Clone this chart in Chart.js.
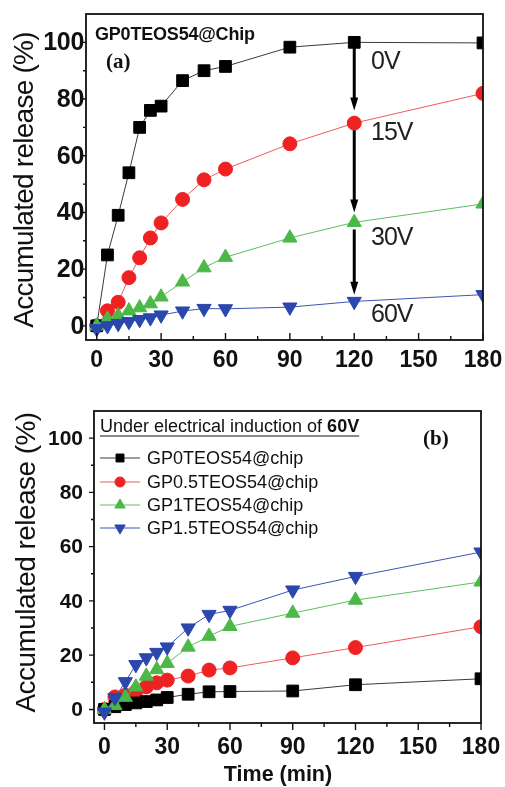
<!DOCTYPE html>
<html><head><meta charset="utf-8">
<script src="https://cdn.jsdelivr.net/npm/chart.js@4/dist/chart.umd.min.js"></script>
<style>
html,body{margin:0;padding:0;background:#fff;}
body{width:505px;height:787px;overflow:hidden;position:relative;}
canvas{position:absolute;left:0;}
</style></head>
<body>
<canvas id="ca" width="505" height="380" style="top:0px"></canvas>
<canvas id="cb" width="505" height="407" style="top:380px"></canvas>
<script>
// ---------- DATA ----------
const times = [0, 5, 10, 15, 20, 25, 30, 40, 50, 60, 90, 120, 180];
// panel (a): GP0TEOS54@Chip at different voltages
const a_0V  = [0, 25, 39, 54, 70, 76, 77.5, 86.5, 90, 91.5, 98.3, 100, 99.8];
const a_15V = [0, 5.3, 8.3, 17, 24, 31, 36.3, 44.6, 51.5, 55.3, 64.2, 71.5, 82];
const a_30V = [0, 2.4, 3.6, 5.3, 6.4, 7.8, 10.2, 15.5, 20.5, 24.2, 31, 36.5, 43];
const a_60V = [-1, 0, 0.8, 1.5, 2.2, 2.8, 3.8, 5.2, 6.1, 6, 6.6, 8.6, 11];
const seriesLabelsA = ['0V', '15V', '30V', '60V'];
// panel (b): 60V, different GP content
const b_GP0   = [0, 1, 1.8, 2.4, 2.9, 3.5, 4.4, 5.6, 6.5, 6.6, 6.8, 9.1, 11.3];
const b_GP05  = [0, 4.6, 5.2, 6.6, 8.3, 9.8, 10.8, 12.3, 14.5, 15.3, 19, 22.8, 30.5];
const b_GP1   = [0, 1.5, 4.5, 8.3, 12.3, 14.7, 17, 23, 27, 30.6, 35.5, 40.3, 47];
const b_GP15  = [-1, 4.3, 10.2, 16.5, 19, 21, 23, 30, 35, 36.5, 44, 49, 58];
const seriesLabelsB = ['GP0TEOS54@chip', 'GP0.5TEOS54@chip', 'GP1TEOS54@chip', 'GP1.5TEOS54@chip'];
// axes
const xTicks = [0, 30, 60, 90, 120, 150, 180];
const xMinor = [15, 45, 75, 105, 135, 165];
const yTicks = [0, 20, 40, 60, 80, 100];
const yMinor = [10, 30, 50, 70, 90];
const xRange = [-5, 180];
const yRange = [-5, 110];
// arrows in panel (a)
const arrowTime = 120;
const arrowFrom = [100, 69, 34];
const arrowTo = [76, 40, 11];

// ---------- STYLE ----------
const FONT = '"Liberation Sans", Arial, sans-serif';
const SERIF = '"Liberation Serif", "Times New Roman", serif';
const styles = [
  {line: '#3a3a3a', fill: '#000000', shape: 'rect', rot: 0, r: 8.3, lr: 5.6},
  {line: '#ef5a5a', fill: '#ee2222', shape: 'circle', rot: 0, r: 7, lr: 5},
  {line: '#5cbf5c', fill: '#4bb848', shape: 'triangle', rot: 0, r: 8.2, lr: 6},
  {line: '#3d56b0', fill: '#2a47ad', shape: 'triangle', rot: 180, r: 8.2, lr: 6}
];
const drawOrder = [2, 3, 1, 0];

function makeDatasets(labels, arrays) {
  return arrays.map((arr, i) => {
    const s = styles[i];
    return {
      label: labels[i],
      data: times.map((t, k) => ({x: t, y: arr[k]})),
      borderColor: s.line,
      backgroundColor: s.fill,
      borderWidth: 1,
      pointBackgroundColor: s.fill,
      pointBorderColor: s.fill,
      pointBorderWidth: 1,
      pointStyle: s.shape,
      pointRotation: s.rot,
      pointRadius: s.r,
      tension: 0,
      fill: false,
      order: drawOrder[i]
    };
  });
}

function txt(ctx, s, x, y, font, align, base, spacing, color) {
  ctx.save();
  ctx.font = font;
  ctx.textAlign = align || 'left';
  ctx.textBaseline = base || 'middle';
  ctx.fillStyle = color || '#111';
  try { ctx.letterSpacing = spacing || '0px'; } catch (e) {}
  ctx.fillText(s, x, y);
  ctx.restore();
}

function drawFrame(chart, o) {
  const ctx = chart.ctx, ca = chart.chartArea;
  const xs = chart.scales.x, ys = chart.scales.y;
  ctx.save();
  ctx.strokeStyle = '#111';
  ctx.lineWidth = 1.8;
  ctx.strokeRect(ca.left, ca.top, ca.right - ca.left, ca.bottom - ca.top);
  ctx.lineWidth = 1.4;
  const dir = o.xIn ? -1 : 1;
  ctx.beginPath();
  xTicks.forEach(v => { const p = xs.getPixelForValue(v); ctx.moveTo(p, ca.bottom); ctx.lineTo(p, ca.bottom + dir * 7); });
  xMinor.forEach(v => { const p = xs.getPixelForValue(v); ctx.moveTo(p, ca.bottom); ctx.lineTo(p, ca.bottom + dir * 4); });
  yTicks.forEach(v => { const p = ys.getPixelForValue(v); ctx.moveTo(ca.left, p); ctx.lineTo(ca.left - 5, p); });
  yMinor.forEach(v => { const p = ys.getPixelForValue(v); ctx.moveTo(ca.left, p); ctx.lineTo(ca.left - 3, p); });
  ctx.stroke();
  ctx.restore();
  xTicks.forEach(v => txt(ctx, String(v), xs.getPixelForValue(v), o.xLabelY, 'bold ' + o.xFont + 'px ' + FONT, 'center', 'middle', '0px'));
  yTicks.forEach(v => txt(ctx, String(v), o.yLabelRight, ys.getPixelForValue(v) + 1, 'bold ' + o.yFont + 'px ' + FONT, 'right', 'middle', o.ySpacing));
  // y title
  ctx.save();
  ctx.translate(o.yTitleX, (ca.top + ca.bottom) / 2 + o.yTitleDy);
  ctx.rotate(-Math.PI / 2);
  txt(ctx, 'Accumulated release (%)', 0, 0, o.yTitleFont + 'px ' + FONT, 'center', 'middle', o.yTitleSpacing);
  ctx.restore();
}

function baseOptions(pad, yW, xH) {
  return {
    responsive: false, animation: false, devicePixelRatio: 1, events: [],
    layout: {padding: pad},
    plugins: {legend: {display: false}, tooltip: {enabled: false}, title: {display: false}},
    scales: {
      x: {type: 'linear', min: xRange[0], max: xRange[1],
          grid: {display: false, drawTicks: false}, border: {display: false},
          ticks: {display: false}, afterFit(s) { s.height = xH; }},
      y: {type: 'linear', min: yRange[0], max: yRange[1],
          grid: {display: false, drawTicks: false}, border: {display: false},
          ticks: {display: false}, afterFit(s) { s.width = yW; }}
    }
  };
}

// ---------- PANEL A ----------
const decorA = {
  id: 'decorA',
  afterDatasetsDraw(chart) {
    const ctx = chart.ctx;
    const xs = chart.scales.x, ys = chart.scales.y;
    drawFrame(chart, {xIn: true, xLabelY: 361, xFont: 23, yLabelRight: 84, yFont: 25, ySpacing: '-0.3px',
                      yTitleX: 25, yTitleDy: 3, yTitleFont: 28, yTitleSpacing: '-0.75px'});
    // arrows
    const ax = xs.getPixelForValue(arrowTime);
    ctx.save();
    ctx.strokeStyle = '#000'; ctx.fillStyle = '#000';
    arrowFrom.forEach((f, i) => {
      const y0 = ys.getPixelForValue(f), y1 = ys.getPixelForValue(arrowTo[i]);
      ctx.lineWidth = 3;
      ctx.beginPath(); ctx.moveTo(ax, y0); ctx.lineTo(ax, y1 - 8); ctx.stroke();
      ctx.beginPath(); ctx.moveTo(ax - 4, y1 - 13); ctx.lineTo(ax + 4, y1 - 13); ctx.lineTo(ax, y1); ctx.closePath(); ctx.fill();
    });
    ctx.restore();
    // labels
    txt(ctx, 'GP0TEOS54@Chip', 95, 35, 'bold 18px ' + FONT, 'left', 'middle', '-0.2px');
    txt(ctx, '(a)', 106, 63, 'bold 21px ' + SERIF, 'left', 'middle', '0px');
    const vy = [62, 133, 238, 315];
    seriesLabelsA.forEach((s, i) => txt(ctx, s, 371, vy[i], '25px ' + FONT, 'left', 'middle', '-1px', '#222'));
  }
};

new Chart(document.getElementById('ca'), {
  type: 'line',
  data: {datasets: makeDatasets(seriesLabelsA, [a_0V, a_15V, a_30V, a_60V])},
  options: baseOptions({top: 14, right: 22, left: 0, bottom: 0}, 86, 40),
  plugins: [decorA]
});

// ---------- PANEL B ----------
const decorB = {
  id: 'decorB',
  afterDatasetsDraw(chart) {
    const ctx = chart.ctx;
    drawFrame(chart, {xIn: false, xLabelY: 368, xFont: 23, yLabelRight: 83, yFont: 21, ySpacing: '0px',
                      yTitleX: 27, yTitleDy: -4.5, yTitleFont: 28, yTitleSpacing: '-0.55px'});
    txt(ctx, 'Time (min)', 278, 395, 'bold 21.5px ' + FONT, 'center', 'middle', '0px');
    txt(ctx, '(b)', 423, 60, 'bold 21px ' + SERIF, 'left', 'middle', '0px');
    // legend header
    ctx.save();
    ctx.font = '18px ' + FONT;
    const h1 = 'Under electrical induction of ';
    const w1 = ctx.measureText(h1).width;
    ctx.fillStyle = '#111'; ctx.textBaseline = 'middle';
    ctx.fillText(h1, 100, 47);
    ctx.font = 'bold 18px ' + FONT;
    const w2 = ctx.measureText('60V').width;
    ctx.fillText('60V', 100 + w1, 47);
    ctx.strokeStyle = '#111'; ctx.lineWidth = 1;
    ctx.beginPath(); ctx.moveTo(100, 56); ctx.lineTo(100 + w1 + w2, 56); ctx.stroke();
    ctx.restore();
    // legend rows
    const rows = [78, 102, 125, 148];
    chart.data.datasets.forEach((d, i) => {
      const s = styles[i], y = rows[i];
      ctx.save();
      ctx.strokeStyle = s.line; ctx.lineWidth = 1;
      ctx.beginPath(); ctx.moveTo(100, y); ctx.lineTo(140, y); ctx.stroke();
      ctx.fillStyle = s.fill; ctx.strokeStyle = s.fill; ctx.lineWidth = 1;
      Chart.helpers.drawPoint(ctx, {pointStyle: s.shape, rotation: s.rot, radius: s.lr, borderWidth: 1}, 120, y);
      ctx.restore();
      txt(ctx, d.label, 147, y + 1, '18px ' + FONT, 'left', 'middle', '0px', '#111');
    });
  }
};

new Chart(document.getElementById('cb'), {
  type: 'line',
  data: {datasets: makeDatasets(seriesLabelsB, [b_GP0, b_GP05, b_GP1, b_GP15])},
  options: baseOptions({top: 31, right: 24, left: 0, bottom: 0}, 94, 64),
  plugins: [decorB]
});
</script>
</body></html>
